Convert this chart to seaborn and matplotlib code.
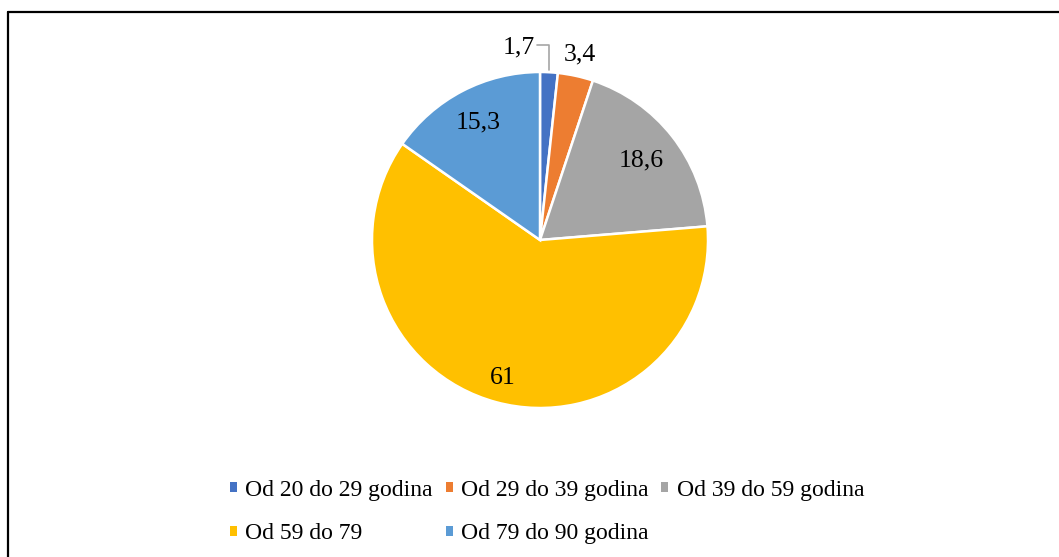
import matplotlib.pyplot as plt
import numpy as np
import seaborn as sns
from matplotlib.lines import Line2D

categories = ["Od 20 do 29 godina", "Od 29 do 39 godina", "Od 39 do 59 godina",
              "Od 59 do 79", "Od 79 do 90 godina"]
values = [1.7, 3.4, 18.6, 61, 15.3]
value_labels = ["1,7", "3,4", "18,6", "61", "15,3"]
colors = ["#4472C4", "#ED7D31", "#A5A5A5", "#FFC000", "#5B9BD5"]

sns.set_theme(style="white")
plt.rcParams["font.family"] = ["Liberation Serif", "DejaVu Serif"]
plt.rcParams["text.color"] = "black"

W, H = 1059, 557
fig = plt.figure(figsize=(W / 100, H / 100), dpi=100)
ax = fig.add_axes([0, 0, 1, 1])

# pie centre and radius in pixels (y measured from bottom)
cx, cy, r = 540, H - 240, 168
wedges, _ = ax.pie(values, colors=colors, startangle=90, counterclock=False,
                   center=(cx, cy), radius=r,
                   wedgeprops=dict(edgecolor="white", linewidth=1.8))
ax.set_xlim(0, W)
ax.set_ylim(0, H)
ax.axis("off")

# data labels: inside ones at a fraction of the radius
dist = [None, None, 0.77, 0.85, 0.79]
for w, lab, d in zip(wedges, value_labels, dist):
    mid = np.deg2rad((w.theta1 + w.theta2) / 2)
    if d is None:
        continue
    ax.text(cx + d * r * np.cos(mid), cy + d * r * np.sin(mid), lab,
            ha="center", va="center", fontsize=18.5)

# small slices get outside labels
m0 = np.deg2rad((wedges[0].theta1 + wedges[0].theta2) / 2)
ex, ey = cx + r * np.cos(m0), cy + r * np.sin(m0)
ax.plot([537, ex, ex], [H - 45, H - 45, ey + 2], color="#A5A5A5", lw=1.2)
ax.text(535, H - 47, value_labels[0], ha="right", va="center", fontsize=18.5)
ax.text(580, H - 54, value_labels[1], ha="center", va="center", fontsize=18.5)

# legend, row-major order
order = [0, 3, 1, 4, 2]
leg = ax.legend([wedges[i] for i in order], [categories[i] for i in order],
                ncol=3, loc="center", bbox_to_anchor=(547 / W, 1 - 512 / H),
                frameon=False, fontsize=17, handlelength=0.3, handleheight=0.3,
                handletextpad=0.35, columnspacing=0.55, labelspacing=0.95)
for h in leg.legend_handles:
    h.set_edgecolor("none")

# chart border (top and left edges only visible)
fig.add_artist(Line2D([8 / W, 1], [1 - 12 / H, 1 - 12 / H], transform=fig.transFigure,
                      color="black", lw=1.6))
fig.add_artist(Line2D([8 / W, 8 / W], [1 - 12 / H, 0], transform=fig.transFigure,
                      color="black", lw=1.6))

fig.savefig("out.png", dpi=100)
